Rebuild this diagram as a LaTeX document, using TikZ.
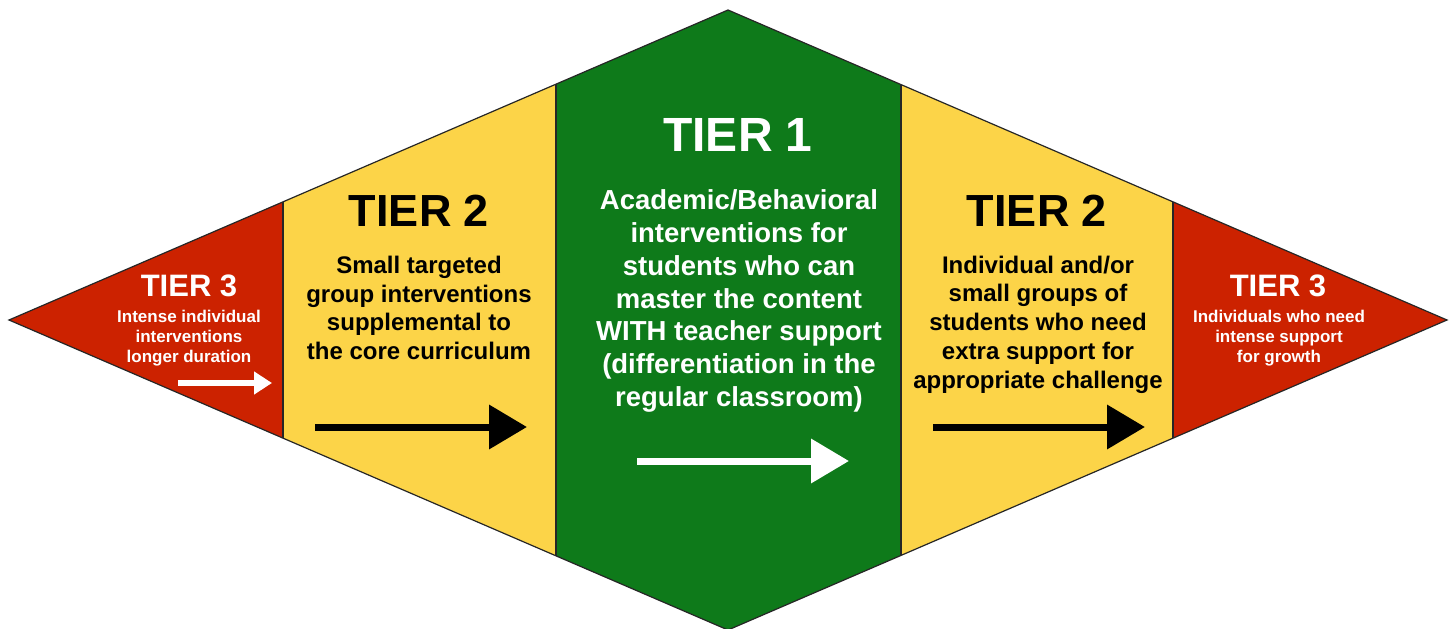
\documentclass[tikz,border=0pt]{standalone}
\usepackage{fontspec}
\setmainfont{Liberation Sans}
\usetikzlibrary{arrows.meta}

\definecolor{tierred}{RGB}{204,34,0}
\definecolor{tieryellow}{RGB}{252,212,72}
\definecolor{tiergreen}{RGB}{14,122,26}

\tikzset{
  edge/.style={draw=black!85, line width=0.6pt},
  bigtitle/.style={text=white, inner sep=0pt, font=\bfseries\fontsize{24pt}{24pt}\selectfont},
  midtitle/.style={text=black, inner sep=0pt, font=\bfseries\fontsize{22.5pt}{22.5pt}\selectfont},
  smalltitle/.style={text=white, inner sep=0pt, font=\bfseries\fontsize{15.5pt}{15.5pt}\selectfont},
  bigtext/.style={text=white, inner sep=0pt, align=center, font=\bfseries\fontsize{13.75pt}{16.4pt}\selectfont},
  midtext/.style={text=black, inner sep=0pt, align=center, font=\bfseries\fontsize{12pt}{14.4pt}\selectfont},
  smalltext/.style={text=white, inner sep=0pt, align=center, font=\bfseries\fontsize{8.5pt}{10pt}\selectfont},
  fatarrow/.style={draw=#1, line width=3.5pt, -{Triangle[length=19pt,width=21.5pt,fill=#1]}},
  thinarrow/.style={draw=#1, line width=3pt, -{Triangle[length=9pt,width=11pt,fill=#1]}}
}

\begin{document}
\begin{tikzpicture}[x=0.5pt,y=0.5pt]

  \useasboundingbox (0,0) rectangle (1452,628);
  \fill[white] (0,0) rectangle (1452,628);

  % corners of the diamond
  \coordinate (L) at (9,308);
  \coordinate (T) at (728,618);
  \coordinate (R) at (1447,308);
  \coordinate (B) at (728,-2);

  % the five bands
  \begin{scope}
  \clip (L) -- (T) -- (R) -- (B) -- cycle;
  \fill[tierred]    (0,-10)    rectangle (283,630);
  \fill[tieryellow] (283,-10)  rectangle (556,630);
  \fill[tiergreen]  (556,-10)  rectangle (901,630);
  \fill[tieryellow] (901,-10)  rectangle (1173,630);
  \fill[tierred]    (1173,-10) rectangle (1452,630);
  \foreach \x in {283,556,901,1173}
    \draw[edge] (\x,-10) -- (\x,630);
  \end{scope}
  \draw[edge] (L) -- (T) -- (R) -- (B) -- cycle;

  % left tier 3
  \node[smalltitle] (t3l) at (189,342) {TIER 3};
  \node[smalltext] (t3ltext) at (189,290) {Intense individual\\interventions\\longer duration};
  \draw[thinarrow=white] (178,245) -- (272,245);

  % left tier 2
  \node[midtitle] (t2l) at (419,417) {TIER 2};
  \node[midtext] (t2ltext) at (419,320) {Small targeted\\group interventions\\supplemental to\\the core curriculum};
  \draw[fatarrow=black] (315,201) -- (527,201);

  % tier 1
  \node[bigtitle] (t1) at (738,493) {TIER 1};
  \node[bigtext] (t1text) at (739,327) {Academic/Behavioral\\interventions for\\students who can\\master the content\\WITH teacher support\\(differentiation in the\\regular classroom)};
  \draw[fatarrow=white] (637,167) -- (849,167);

  % right tier 2
  \node[midtitle] (t2r) at (1037,417) {TIER 2};
  \node[midtext] (t2rtext) at (1038,303.5) {Individual and/or\\small groups of\\students who need\\extra support for\\appropriate challenge};
  \draw[fatarrow=black] (933,201) -- (1145,201);

  % right tier 3
  \node[smalltitle] (t3r) at (1278,342) {TIER 3};
  \node[smalltext] (t3rtext) at (1279,290) {Individuals who need\\intense support\\for growth};

\end{tikzpicture}
\end{document}
